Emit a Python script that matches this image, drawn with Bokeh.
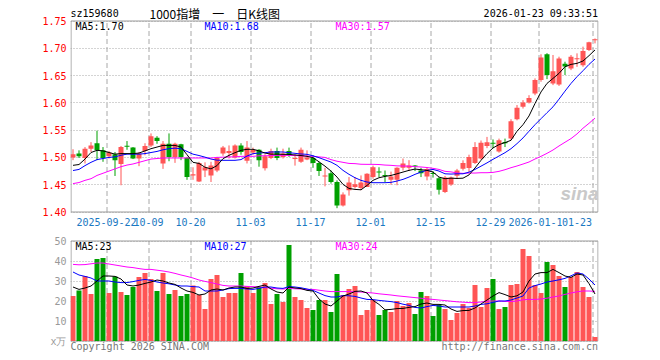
from bokeh.plotting import figure
from bokeh.layouts import column
from bokeh.models import ColumnDataSource, FixedTicker, Range1d, Label, NumeralTickFormatter
from bokeh.core.properties import value
from bokeh.embed import file_html
from bokeh.resources import INLINE

# ---------------- data ----------------
tick_idx = [6, 13, 20, 30, 40, 50, 60, 70, 78, 87]
tick_labels = ["2025-09-22", "10-09", "10-20", "11-03", "11-17", "12-01",
               "12-15", "12-29", "2026-01-12", "01-23"]
price_ticks = [1.40, 1.45, 1.50, 1.55, 1.60, 1.65, 1.70, 1.75]
vol_ticks = [0, 10, 20, 30, 40, 50]

open_ = [1.500, 1.507, 1.499, 1.516, 1.526, 1.513, 1.502, 1.506, 1.488, 1.5205,
         1.518, 1.498, 1.512, 1.522, 1.536, 1.489, 1.525, 1.501, 1.524, 1.499,
         1.467, 1.456, 1.476, 1.467, 1.476, 1.507, 1.508, 1.500, 1.522, 1.494,
         1.509, 1.514, 1.480, 1.499, 1.512, 1.501, 1.512, 1.497, 1.492, 1.496,
         1.499, 1.490, 1.465, 1.471, 1.455, 1.412, 1.440, 1.446, 1.444, 1.446,
         1.464, 1.4735, 1.467, 1.459, 1.459, 1.481, 1.481, 1.4845, 1.476, 1.465,
         1.4705, 1.462, 1.4365, 1.4505, 1.4665, 1.4794, 1.4806, 1.490, 1.498, 1.521,
         1.526, 1.511, 1.5268, 1.5345, 1.570, 1.5927, 1.6007, 1.617, 1.6417, 1.689,
         1.6357, 1.6338, 1.6717, 1.663, 1.680, 1.669, 1.6967, 1.7148]
high = [1.515, 1.513, 1.519, 1.528, 1.549, 1.519, 1.512, 1.510, 1.521, 1.530,
        1.519, 1.510, 1.526, 1.544, 1.539, 1.530, 1.544, 1.527, 1.525, 1.501,
        1.482, 1.492, 1.491, 1.492, 1.501, 1.521, 1.522, 1.524, 1.526, 1.530,
        1.518, 1.515, 1.506, 1.516, 1.518, 1.516, 1.518, 1.506, 1.518, 1.513,
        1.504, 1.492, 1.481, 1.476, 1.458, 1.436, 1.464, 1.464, 1.467, 1.471,
        1.485, 1.482, 1.476, 1.474, 1.482, 1.498, 1.495, 1.486, 1.481, 1.482,
        1.475, 1.464, 1.466, 1.465, 1.479, 1.4947, 1.505, 1.528, 1.531, 1.5376,
        1.533, 1.5345, 1.5345, 1.570, 1.596, 1.605, 1.614, 1.6448, 1.689, 1.691,
        1.6877, 1.6846, 1.6754, 1.6877, 1.6907, 1.703, 1.712, 1.718]
low = [1.495, 1.499, 1.489, 1.510, 1.495, 1.492, 1.498, 1.466, 1.449, 1.514,
       1.497, 1.484, 1.504, 1.519, 1.525, 1.479, 1.493, 1.490, 1.495, 1.459,
       1.459, 1.455, 1.464, 1.455, 1.473, 1.503, 1.498, 1.498, 1.505, 1.489,
       1.505, 1.483, 1.476, 1.497, 1.495, 1.498, 1.501, 1.485, 1.490, 1.495,
       1.481, 1.466, 1.447, 1.452, 1.407, 1.410, 1.430, 1.443, 1.440, 1.446,
       1.461, 1.464, 1.455, 1.450, 1.449, 1.476, 1.475, 1.475, 1.464, 1.458,
       1.463, 1.432, 1.4347, 1.448, 1.462, 1.476, 1.473, 1.488, 1.496, 1.517,
       1.517, 1.5087, 1.519, 1.5315, 1.568, 1.5896, 1.5988, 1.614, 1.6387, 1.6435,
       1.6325, 1.631, 1.651, 1.660, 1.666, 1.666, 1.695, 1.709]
close = [1.506, 1.502, 1.516, 1.522, 1.513, 1.499, 1.509, 1.495, 1.519, 1.5195,
         1.498, 1.507, 1.521, 1.539, 1.530, 1.525, 1.501, 1.525, 1.501, 1.464,
         1.469, 1.490, 1.482, 1.485, 1.499, 1.518, 1.512, 1.522, 1.510, 1.518,
         1.514, 1.495, 1.502, 1.512, 1.499, 1.507, 1.504, 1.498, 1.514, 1.500,
         1.490, 1.475, 1.466, 1.455, 1.412, 1.432, 1.454, 1.451, 1.454, 1.470,
         1.482, 1.4725, 1.466, 1.465, 1.481, 1.489, 1.485, 1.4835, 1.471, 1.479,
         1.4695, 1.441, 1.463, 1.463, 1.476, 1.4898, 1.5008, 1.519, 1.527, 1.528,
         1.525, 1.5315, 1.5262, 1.5663, 1.591, 1.6007, 1.609, 1.6417, 1.683, 1.651,
         1.658, 1.6815, 1.6668, 1.6846, 1.6805, 1.695, 1.711, 1.7155]
ma5 = [1.4855, 1.487, 1.497, 1.509, 1.513, 1.512, 1.509, 1.506, 1.507, 1.507,
       1.507, 1.508, 1.512, 1.516, 1.519, 1.522, 1.522, 1.522, 1.519, 1.505,
       1.491, 1.489, 1.482, 1.479, 1.485, 1.4977, 1.5038, 1.5087, 1.513, 1.5149,
       1.5149, 1.512, 1.508, 1.506, 1.506, 1.5057, 1.5055, 1.5045, 1.5035, 1.502,
       1.4995, 1.492, 1.484, 1.475, 1.464, 1.4506, 1.4432, 1.4414, 1.4407, 1.4487,
       1.458, 1.4628, 1.4652, 1.467, 1.470, 1.4732, 1.4763, 1.4787, 1.4775, 1.4763,
       1.4732, 1.464, 1.461, 1.462, 1.4615, 1.462, 1.468, 1.4806, 1.4947, 1.507,
       1.5174, 1.5235, 1.5271, 1.5314, 1.548, 1.560, 1.576, 1.5988, 1.620, 1.6356,
       1.6448, 1.654, 1.6662, 1.6705, 1.6724, 1.6767, 1.6865, 1.6969]
ma10 = [1.476, 1.478, 1.485, 1.491, 1.496, 1.498, 1.500, 1.501, 1.504, 1.506,
        1.506, 1.506, 1.507, 1.509, 1.511, 1.514, 1.516, 1.517, 1.516, 1.511,
        1.506, 1.5035, 1.5005, 1.497, 1.495, 1.4947, 1.4947, 1.4947, 1.496, 1.5026,
        1.5069, 1.508, 1.5087, 1.510, 1.510, 1.510, 1.5087, 1.5075, 1.5063, 1.5057,
        1.503, 1.4995, 1.4955, 1.4915, 1.4855, 1.4763, 1.469, 1.4628, 1.458, 1.4549,
        1.4537, 1.4537, 1.4537, 1.4543, 1.4567, 1.4598, 1.464, 1.469, 1.4732, 1.4763,
        1.478, 1.475, 1.470, 1.4695, 1.470, 1.470, 1.473, 1.478, 1.484, 1.490,
        1.4965, 1.5026, 1.5087, 1.516, 1.5253, 1.5357, 1.548, 1.560, 1.571, 1.582,
        1.5927, 1.6068, 1.6215, 1.6356, 1.6479, 1.6589, 1.6705, 1.6803]
ma30 = [1.452, 1.454, 1.458, 1.461, 1.467, 1.471, 1.475, 1.479, 1.483, 1.486,
        1.488, 1.491, 1.494, 1.497, 1.498, 1.499, 1.499, 1.499, 1.499, 1.499,
        1.499, 1.499, 1.499, 1.499, 1.500, 1.5005, 1.501, 1.501, 1.502, 1.502,
        1.502, 1.503, 1.503, 1.5035, 1.5038, 1.5038, 1.5038, 1.5035, 1.503, 1.5025,
        1.502, 1.501, 1.500, 1.496, 1.493, 1.491, 1.489, 1.4886, 1.4875, 1.4873,
        1.4873, 1.487, 1.486, 1.4855, 1.4845, 1.4843, 1.484, 1.483, 1.4825, 1.4815,
        1.480, 1.478, 1.4745, 1.4735, 1.4715, 1.4708, 1.4714, 1.4714, 1.472, 1.472,
        1.4726, 1.4745, 1.4775, 1.4812, 1.4843, 1.4879, 1.4916, 1.4971, 1.502, 1.5075,
        1.5136, 1.521, 1.5278, 1.5345, 1.5431, 1.5535, 1.5625, 1.572]

volume = [22.5, 25.3, 32.5, 23.5, 41, 41.5, 24, 32.3, 24.5, 23,
          27, 32, 34, 31, 25, 34, 23.5, 25.5, 22.5, 23.5,
          27.8, 23, 16, 31, 33, 22, 24, 24, 34, 27.5,
          24, 27, 29, 18.5, 23.5, 19.5, 48, 22, 20.5, 16.5,
          15.5, 20.5, 20.5, 14.5, 33.5, 23, 26, 27.5, 13, 15.5,
          20.5, 13, 15.5, 14.5, 20, 17.5, 19, 13.5, 24.5, 22.5,
          12.5, 18, 16, 10.5, 14, 18.5, 16.5, 28, 17, 26.5,
          31, 16, 17, 28, 28.5, 46, 42.5, 28, 24, 39.5,
          38, 32.5, 27, 32, 34.5, 27, 22, 2]
vma5 = [27, 25.8, 26.5, 27.5, 30, 32.5, 32.5, 32.3, 31, 28,
        27.5, 28, 28.8, 29.5, 30.5, 30, 29, 28.3, 26.5, 25,
        24.3, 23, 23.5, 25.5, 26, 25.5, 26.5, 27, 27, 26.3,
        26.5, 27.3, 28, 26, 24.5, 24, 27, 26.5, 26.2, 25.3,
        25, 21, 18.5, 17.5, 20, 22.5, 23.5, 24.8, 25, 24,
        20.3, 18.3, 15.6, 15.8, 16.2, 16.3, 16.8, 17.2, 18.5, 19,
        18.3, 18.3, 18, 16, 14.8, 15.2, 15.3, 16.5, 18.5, 20.5,
        22.5, 24.2, 23.2, 22, 22.6, 24.5, 30, 33.5, 34.2, 34.2,
        35.8, 34.2, 32.5, 31.8, 33.5, 33, 28.7, 23.5]
vma10 = [34.5, 33, 32.3, 31.5, 30, 30, 30, 29.5, 29.2, 29.2,
         29.7, 30.3, 30.8, 30.3, 29.5, 29, 28.6, 28, 27.5, 27.5,
         27.2, 27, 25, 25, 25, 25.5, 26.2, 26.3, 26.3, 26,
         25.8, 26.3, 27, 27, 26.5, 26.3, 27.2, 27, 26.6, 26,
         25.3, 24, 22.7, 22, 22, 22.7, 22.6, 22.3, 21.5, 20.8,
         20.7, 20.3, 20, 19.7, 19.2, 18.4, 17.8, 16.8, 16.5, 17.2,
         17.8, 17.5, 17, 17, 17, 17, 17, 17.5, 18.3, 18.6,
         19.3, 20, 20, 20.5, 21.5, 22.5, 26.5, 27.7, 28.5, 29.5,
         30, 30.6, 31.3, 32.6, 34, 33.5, 31, 28]
vma30 = [38.3, 38.1, 38.2, 38.6, 39, 39, 38.5, 38, 37.5, 37,
         36.7, 36.2, 35.8, 35.8, 35.4, 35, 34.5, 33.8, 33, 32.3,
         31.5, 30.5, 29.8, 29.2, 28.5, 27.8, 27.5, 27.5, 27.5, 27.3,
         27.2, 27, 26.7, 26.4, 26.1, 26, 26.3, 26.1, 26, 25.8,
         25.8, 25.4, 25, 24.7, 24.7, 24.7, 24.7, 24.6, 24.5, 24.2,
         24, 23.6, 23.3, 23, 22.6, 22.3, 22, 21.7, 21.4, 21,
         20.8, 20.5, 20.2, 19.9, 19.6, 19.4, 19.2, 19.2, 19.5, 19.9,
         20, 20, 19.8, 19.7, 20, 20.6, 20.8, 20.8, 21, 21.4,
         22, 22.5, 23.3, 24, 24.6, 25, 25, 24.8]

# ---------------- styling / layout ----------------
RED = "#ff5555"
GREEN = "#00a000"
XBLUE = "#1a78c2"
GRID = "#a8a8a8"
BORDER = "#9a9a9a"
FONT = "DejaVu Sans Mono"
FS = "10px"

W = 652
FL, FR = 70, 598                 # frame left / right pixel
XMAX = (FR - FL) / 6.0           # 6 px per trading day
XB0, XB1 = 0.5 / 6.0, (597.5 - FL) / 6.0   # panel border x (data units)

# price panel: page y 0..232 ; 1.75 at y=20.5, 1.40 at y=211.5
P_FIG_H = 232
S = 191.0 / 0.35
P_START = 1.40 - (P_FIG_H - 211.5) / S
P_END = 1.75 + 20.5 / S
# volume panel: page y 232..352 ; 50 at page 240.5, 0 at page 340.5
V_FIG_H = 120
V_START = -(V_FIG_H - 108.5) / 2.0
V_END = 50 + 8.5 / 2.0

N = len(close)
xs = [i + 5.0 / 12.0 for i in range(N)]
colors = [RED if c >= o else GREEN for o, c in zip(open_, close)]
body_bot = [min(o, c) for o, c in zip(open_, close)]
body_top = [max(max(o, c), min(o, c) + 0.0019) for o, c in zip(open_, close)]
grid_x = [t + 0.5 / 6.0 for t in tick_idx]

src = ColumnDataSource(dict(x=xs, o=open_, h=high, l=low, c=close, bt=body_top, bb=body_bot,
                            col=colors, ma5=ma5, ma10=ma10, ma30=ma30, v=volume,
                            vma5=vma5, vma10=vma10, vma30=vma30))


def py(sy):
    return 1.40 + (211.5 - sy) / S


def vy(page_y):
    return (340.5 - page_y) / 2.0


def dx(sx):
    return (sx - FL) / 6.0


def base_fig(height, y_start, y_end):
    p = figure(width=W, height=height, x_range=Range1d(0, XMAX), y_range=Range1d(y_start, y_end),
               output_backend="svg", toolbar_location=None, x_axis_location=None,
               min_border_left=FL, min_border_right=W - FR, min_border_top=0, min_border_bottom=0)
    p.outline_line_color = None
    p.background_fill_color = "white"
    p.border_fill_color = "white"
    p.xgrid.visible = False
    p.ygrid.grid_line_color = GRID
    p.ygrid.grid_line_dash = "1 2"
    ax = p.yaxis[0]
    ax.axis_line_color = None
    ax.major_tick_line_color = None
    ax.minor_tick_line_color = None
    ax.major_tick_out = 0
    ax.major_tick_in = 0
    ax.major_label_standoff = 4
    ax.major_label_text_font = FONT
    ax.major_label_text_font_size = FS
    return p


def txt(p, x, y, text, color, align="left", size=FS, font=FONT, bg=None, style="normal"):
    l = Label(x=x, y=y, text=text, text_color=color, text_align=align, text_baseline="middle",
              text_font=font, text_font_size=size, text_font_style=style)
    if bg:
        l.background_fill_color = bg
    p.add_layout(l)


# ---------- price panel ----------
p1 = base_fig(P_FIG_H, P_START, P_END)
p1.yaxis.ticker = FixedTicker(ticks=price_ticks)
p1.yaxis.formatter = NumeralTickFormatter(format="0.00")
p1.yaxis.major_label_text_color = "#ff0000"

p1.segment(x0=grid_x, y0=[price_ticks[0]] * len(grid_x), x1=grid_x, y1=[price_ticks[-1]] * len(grid_x),
           line_color=GRID, line_dash="5 3", line_width=1)
p1.quad(left=[XB0], right=[XB1], bottom=[price_ticks[0]], top=[price_ticks[-1]],
        fill_color=None, line_color=BORDER, line_width=1)

txt(p1, XMAX, py(193), "sina", "#c9c9c9", align="right", size="19px", font="Liberation Sans",
    style="bold italic")

p1.segment(x0="x", y0="l", x1="x", y1="h", line_color="col", line_width=1, source=src)
p1.vbar(x="x", width=5.0 / 6.0, top="bt", bottom="bb", fill_color="col", line_color=None, source=src)
p1.line("x", "ma30", line_color="#ff00ff", line_width=1, source=src)
p1.line("x", "ma10", line_color="#0000ff", line_width=1, source=src)
p1.line("x", "ma5", line_color="black", line_width=1, source=src)

# x tick labels (below the price panel)
p1.text(x=tick_idx[:-1], y=[py(221.7)] * (len(tick_idx) - 1), text=tick_labels[:-1],
        text_align="center", text_baseline="middle", text_color=XBLUE,
        text_font=value(FONT), text_font_size=value(FS))
txt(p1, dx(591.5), py(221.7), tick_labels[-1], XBLUE, align="right", bg="white")

txt(p1, dx(70), py(13), "sz159680", "black")
txt(p1, dx(149), py(12.8), "1000指增\u3000一\u3000日K线图", "black", size="12px", font="Noto Sans CJK SC")
txt(p1, dx(597.5), py(13), "2026-01-23 09:33:51", "black", align="right")
txt(p1, dx(75), py(26), "MA5:1.70", "black")
txt(p1, dx(204), py(26), "MA10:1.68", "#0000ff")
txt(p1, dx(335), py(26), "MA30:1.57", "#ff00ff")

# ---------- volume panel ----------
p2 = base_fig(V_FIG_H, V_START, V_END)
p2.x_range = p1.x_range
p2.yaxis.ticker = FixedTicker(ticks=vol_ticks)
p2.yaxis.major_label_overrides = {0: "x万"}
p2.yaxis.major_label_text_color = "#999999"

p2.segment(x0=grid_x, y0=[vol_ticks[0]] * len(grid_x), x1=grid_x, y1=[vol_ticks[-1]] * len(grid_x),
           line_color=GRID, line_dash="5 3", line_width=1)
p2.quad(left=[XB0], right=[XB1], bottom=[vol_ticks[0]], top=[vol_ticks[-1]],
        fill_color=None, line_color=BORDER, line_width=1)

p2.vbar(x="x", width=5.0 / 6.0, top="v", bottom=0, fill_color="col", line_color=None, source=src)
p2.line("x", "vma30", line_color="#ff00ff", line_width=1, source=src)
p2.line("x", "vma10", line_color="#0000ff", line_width=1, source=src)
p2.line("x", "vma5", line_color="black", line_width=1, source=src)

txt(p2, dx(75), vy(246), "MA5:23", "black")
txt(p2, dx(204), vy(246), "MA10:27", "#0000ff")
txt(p2, dx(335), vy(246), "MA30:24", "#ff00ff")
txt(p2, dx(70), vy(345.7), "Copyright 2026 SINA.COM", "#777777")
txt(p2, dx(597.5), vy(345.7), "http://finance.sina.com.cn", "#777777", align="right")

layout = column(p1, p2)
open("out.html", "w", encoding="utf-8").write(file_html(layout, INLINE))
